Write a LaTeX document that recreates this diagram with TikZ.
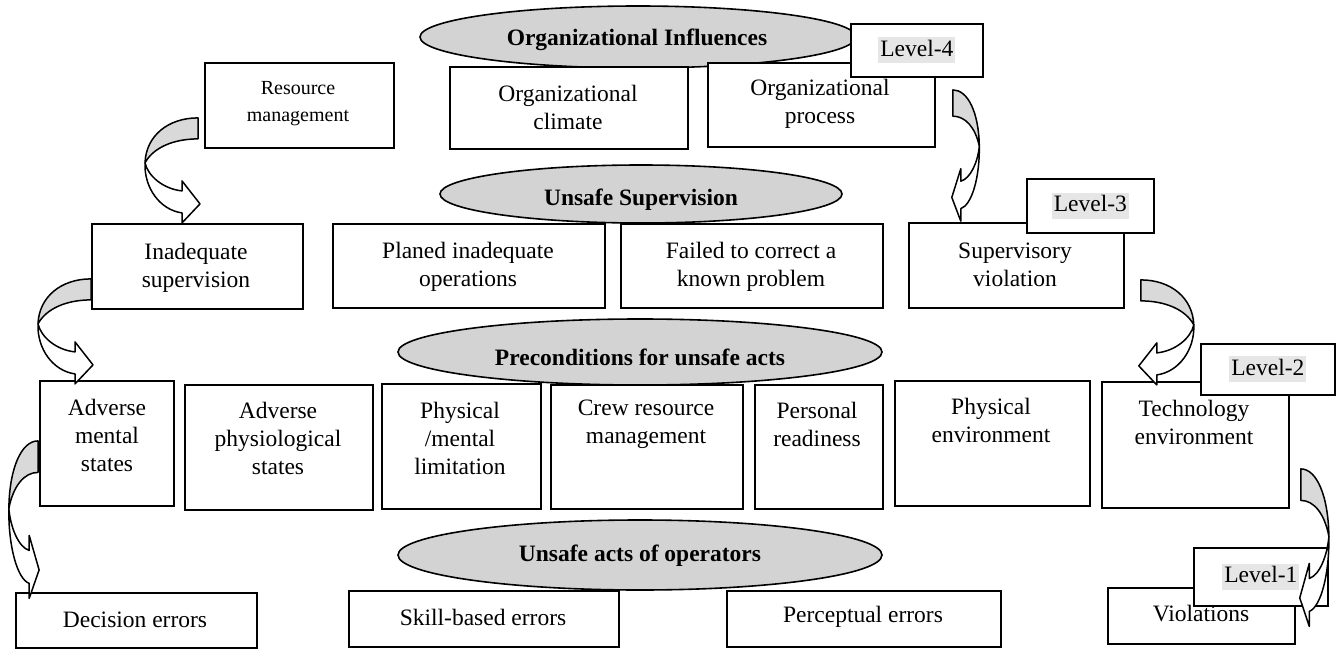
\documentclass[tikz,border=0pt]{standalone}
\usepackage{fontspec}
\setmainfont{Liberation Serif}
\usetikzlibrary{shapes.geometric,calc}
\definecolor{ellgray}{HTML}{D3D3D3}
\definecolor{arrgray}{HTML}{D9D9D9}
\definecolor{lvlgray}{HTML}{E6E6E6}
\newcommand{\lvltext}[1]{{\setlength{\fboxsep}{2pt}\colorbox{lvlgray}{\rule[-5pt]{0pt}{22pt}#1}}}
\newcommand{\bx}[5]{\node[boxstyle, minimum width=#4pt, minimum height=#5pt] (#1) at (#2,#3) {};}
\begin{document}
\begin{tikzpicture}[x=1pt,y=-1pt,
  boxstyle/.style={draw, fill=white, line width=1.8pt, inner sep=0pt, anchor=north west},
  txt/.style={font=\fontsize{23.5}{28}\selectfont, align=center, inner sep=0pt, yshift=-3pt},
  smalltxt/.style={font=\fontsize{20}{27}\selectfont, align=center, inner sep=0pt, yshift=-3pt},
  ell/.style={ellipse, draw, fill=ellgray, line width=1.6pt, inner sep=0pt, font=\bfseries\fontsize{23.5}{28}\selectfont},
  elltxt/.style={draw=none, fill=none, inner sep=0pt, font=\bfseries\fontsize{23.5}{28}\selectfont, yshift=-3pt},
  curvarrow/.pic={
    \filldraw[fill=arrgray, line width=1.5pt, line join=round]
      (0,0) .. controls (-30,0) and (-52,18) .. (-53,45)
      .. controls (-45,30) and (-25,21) .. (0,21) -- cycle;
    \filldraw[fill=white, line width=1.5pt, line join=round]
      (-53,45) .. controls (-50,58) and (-35,71) .. (-16,73)
      -- (-16,63) -- (2,86) -- (-16,105) -- (-16,95)
      .. controls (-38,92) and (-54,70) .. (-53,45) -- cycle;
  },
]
\useasboundingbox (0,0) rectangle (1336,648);

% ellipses (level headings)
\node[ell, minimum width=436pt, minimum height=62pt] (oi) at (638,37) {};
\node[ell, minimum width=402pt, minimum height=58pt] (us) at (641,194) {};
\node[ell, minimum width=484pt, minimum height=66pt] (pfu) at (640,352) {};
\node[ell, minimum width=484pt, minimum height=70pt] (uao) at (640,555) {};
\node[elltxt] (oit) at (637,37) {Organizational Influences};
\node[elltxt] (ust) at (641,197) {Unsafe Supervision};
\node[elltxt] (pfut) at (640,354) {Preconditions for unsafe acts};
\node[elltxt] (uaot) at (640,553) {Unsafe acts of operators};

% boxes
\bx{rm}{204}{62}{189}{85}
\bx{oc}{449}{66}{238}{82}
\bx{op}{707}{62}{227}{84}
\bx{is}{91}{223}{211}{85}
\bx{pio}{332}{223}{272}{84}
\bx{ftc}{620}{223}{262}{84}
\bx{sv}{908}{222}{215}{85}
\bx{ams}{39}{380}{134}{125}
\bx{aps}{184}{384}{188}{125}
\bx{pml}{381}{383}{159}{125}
\bx{crm}{550}{384}{192}{124}
\bx{pr}{754}{384}{128}{124}
\bx{pe}{894}{380}{195}{125}
\bx{te}{1101}{381}{187}{126}
\bx{de}{15}{592}{241}{55}
\bx{sbe}{348}{590}{270}{56}
\bx{pce}{726}{590}{274}{56}
\bx{vio}{1107}{587}{187}{56}

% box texts
\node[smalltxt] (rmt) at (298,101) {Resource\\management};
\node[txt] (oct) at (568,104) {Organizational\\climate};
\node[txt] (opt) at (820,101) {Organizational\\process};
\node[txt] (ist) at (196,265) {Inadequate\\supervision};
\node[txt] (piot) at (468,264) {Planed inadequate\\operations};
\node[txt] (ftct) at (751,264) {Failed to correct a\\known problem};
\node[txt] (svt) at (1015,262) {Supervisory\\violation};
\node[txt] (amst) at (107,432) {Adverse\\mental\\states};
\node[txt] (apst) at (278,435) {Adverse\\physiological\\states};
\node[txt] (pmlt) at (460,435) {Physical\\/mental\\limitation};
\node[txt] (crmt) at (646,421) {Crew resource\\management};
\node[txt] (prt) at (817,421) {Personal\\readiness};
\node[txt] (pet) at (991,417) {Physical\\environment};
\node[txt] (tet) at (1194,419) {Technology\\environment};
\node[txt] (det) at (135,617) {Decision errors};
\node[txt] (sbet) at (483,614) {Skill-based errors};
\node[txt] (pcet) at (863,614) {Perceptual errors};
\node[txt] (viot) at (1201,611) {Violations};

% level boxes
\node[boxstyle, font=\fontsize{23.5}{28}\selectfont, minimum width=132pt, minimum height=53pt] (lv4) at (850,23) {\lvltext{Level-4}};
\node[boxstyle, font=\fontsize{23.5}{28}\selectfont, minimum width=127pt, minimum height=54pt] (lv3) at (1026,178) {\lvltext{Level-3}};
\node[boxstyle, font=\fontsize{23.5}{28}\selectfont, minimum width=134pt, minimum height=51pt] (lv2) at (1200,343) {\lvltext{Level-2}};
\node[boxstyle, font=\fontsize{23.5}{28}\selectfont, minimum width=134pt, minimum height=58pt] (lv1) at (1193,547) {\lvltext{Level-1}};

% curved arrows between levels
\pic at ([shift={(-6,12.5)}]rm.west) {curvarrow};
\pic at ([shift={(0,12.5)}]is.west) {curvarrow};
\pic[xscale=0.55, yscale=1.5] at ([shift={(-1,-2.5)}]ams.west) {curvarrow};
\pic[xscale=-0.5, yscale=1.25] at ([shift={(17,-15)}]op.east) {curvarrow};
\pic[xscale=-1] at ([shift={(16,14.5)}]sv.east) {curvarrow};
\pic[xscale=-0.53, yscale=1.5] at ([shift={(11,24)}]te.east) {curvarrow};
\end{tikzpicture}
\end{document}
